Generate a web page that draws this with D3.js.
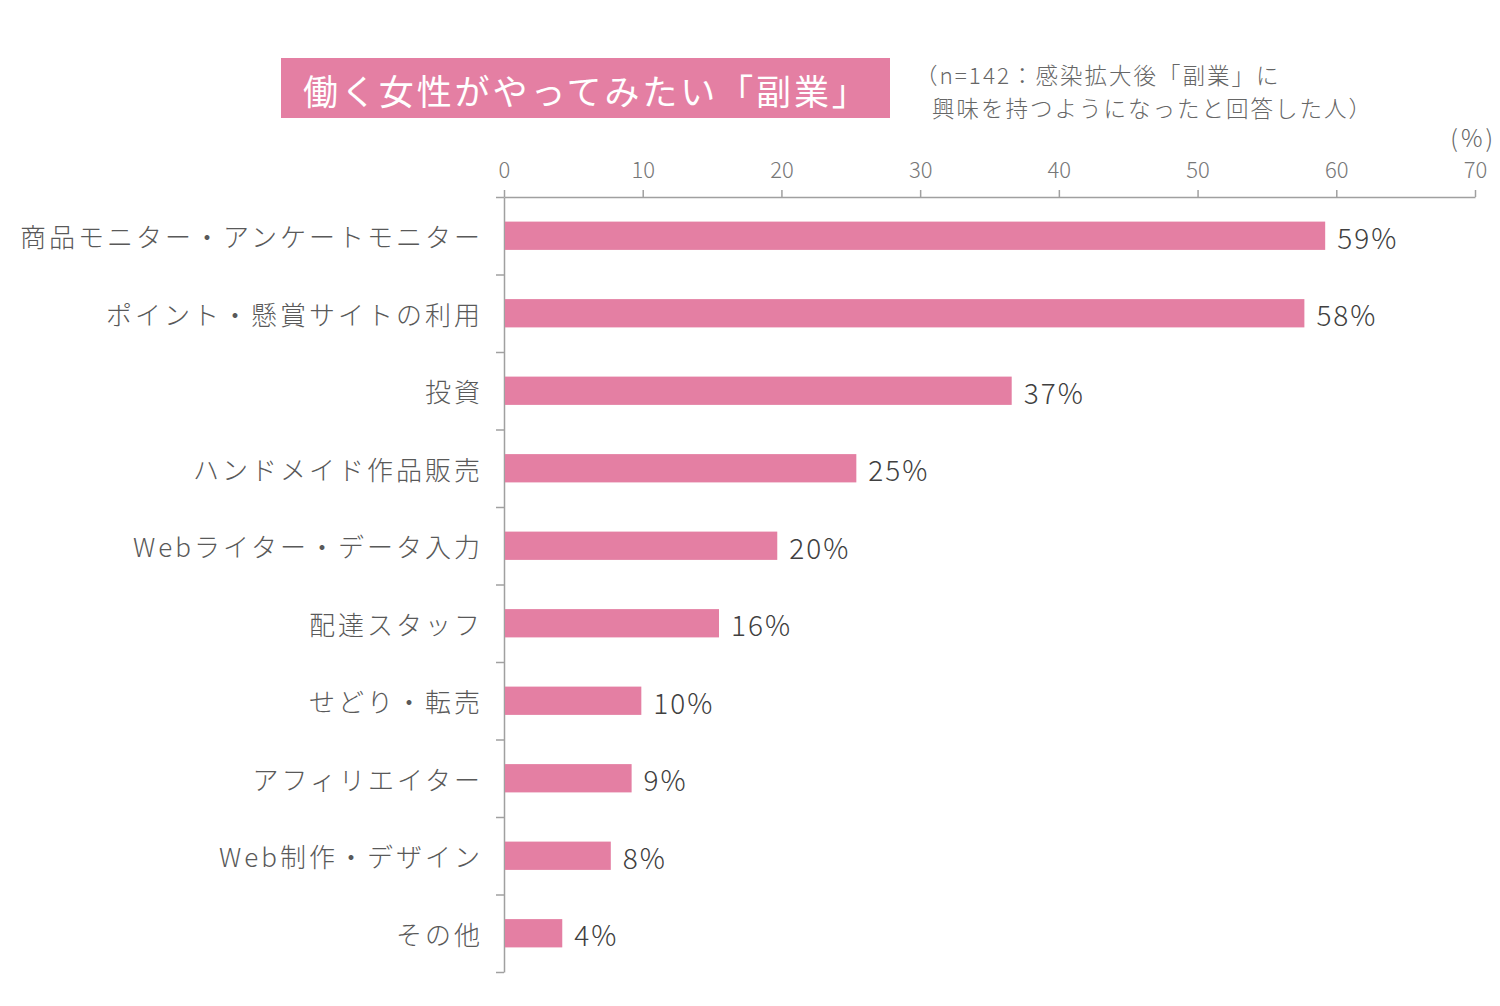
<!DOCTYPE html>
<html><head><meta charset="utf-8">
<script src="https://cdn.jsdelivr.net/npm/d3@7"></script>
<style>
html,body{margin:0;padding:0;background:#fff;}
#wrap{position:relative;width:1500px;height:1006px;}
svg{display:block;font-family:"Noto Sans CJK JP","Noto Sans",sans-serif;}
#note{position:absolute;left:915px;top:58px;font-family:"Noto Sans CJK JP",sans-serif;font-size:22.5px;font-weight:300;
  letter-spacing:2px;color:#666;white-space:pre;}
#note div{display:block;height:33px;line-height:33px;overflow:visible;}
</style></head>
<body>
<div id="wrap">
<svg id="chart" width="1500" height="1006"></svg>
<div id="note"></div>
</div>
<script>
const categories = ["商品モニター・アンケートモニター","ポイント・懸賞サイトの利用","投資","ハンドメイド作品販売","Webライター・データ入力","配達スタッフ","せどり・転売","アフィリエイター","Web制作・デザイン","その他"];
const values = [59.2, 57.7, 36.6, 25.4, 19.7, 15.5, 9.9, 9.2, 7.7, 4.2];
const valueLabels = ["59%","58%","37%","25%","20%","16%","10%","9%","8%","4%"];
const xTicks = [0,10,20,30,40,50,60,70];
const titleText = "働く女性がやってみたい「副業」";
const noteLines = ["（n=142：感染拡大後「副業」に","興味を持つようになったと回答した人）"];
const unitText = "(%)";

const svg = d3.select("#chart");
const pink = "#E47FA3";
const axisColor = "#a0a0a0";

const x = d3.scaleLinear().domain([0,70]).range([504,1475]);
const y = d3.scaleBand().domain(categories).range([197,972]).padding(0);
const barH = y.bandwidth()*0.365;

// title box
svg.append("rect").attr("x",281).attr("y",58).attr("width",609).attr("height",60).attr("fill",pink);
svg.append("text").attr("x",303).attr("y",89).attr("dominant-baseline","central")
  .attr("fill","#fff").attr("font-size",35).attr("letter-spacing",2.9).text(titleText);

// note (HTML block, one div per line)
d3.select("#note").selectAll("div").data(noteLines).join("div")
  .style("margin-left",(d,i)=>i===0?"0px":"17px").text(d=>d);

svg.append("text").attr("x",1496).attr("y",136).attr("text-anchor","end").attr("dominant-baseline","central")
  .attr("fill","#666").attr("font-size",24).attr("font-weight",300).attr("letter-spacing",3).text(unitText);

// top axis
const gx = svg.append("g").attr("transform","translate(0,197)")
  .call(d3.axisTop(x).tickValues(xTicks).tickSize(7).tickSizeOuter(0).tickPadding(12));
gx.select(".domain").attr("stroke",axisColor).attr("stroke-width",1.5);
gx.selectAll(".tick line").attr("stroke",axisColor).attr("stroke-width",1.5);
gx.selectAll(".tick text").attr("fill","#777").attr("font-size",22).attr("font-family","\"Noto Sans CJK JP\",sans-serif").attr("font-weight",300);

// left axis with boundary ticks
const yb = d3.scaleLinear().domain([0,categories.length]).range([197,972]);
const gy = svg.append("g").attr("transform","translate(504,0)")
  .call(d3.axisLeft(yb).tickValues(d3.range(0,categories.length+1)).tickSize(8).tickSizeOuter(0).tickFormat(""));
gy.select(".domain").attr("stroke",axisColor).attr("stroke-width",1.5);
gy.selectAll(".tick line").attr("stroke",axisColor).attr("stroke-width",1.5);

// category labels
svg.append("g").selectAll("text").data(categories).join("text")
  .attr("x",483).attr("y",d=>y(d)+y.bandwidth()/2).attr("text-anchor","end").attr("dominant-baseline","central")
  .attr("fill","#595959").attr("font-size",26).attr("font-weight",300).attr("letter-spacing",3)
  .text(d=>d);

// bars
svg.append("g").selectAll("rect").data(values).join("rect")
  .attr("x",x(0)+1).attr("y",(d,i)=>y(categories[i])+(y.bandwidth()-barH)/2)
  .attr("width",d=>x(d)-x(0)-1).attr("height",barH).attr("fill",pink);

// value labels
svg.append("g").selectAll("text").data(values).join("text")
  .attr("x",d=>x(d)+12).attr("y",(d,i)=>y(categories[i])+y.bandwidth()/2+1).attr("dominant-baseline","central")
  .attr("fill","#404040").attr("font-size",28).attr("font-weight",300).attr("letter-spacing",2)
  .text((d,i)=>valueLabels[i]);
</script>
</body></html>
